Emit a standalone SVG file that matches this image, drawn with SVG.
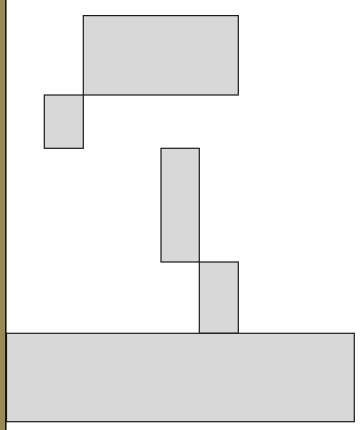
<svg xmlns="http://www.w3.org/2000/svg" width="361" height="430" viewBox="0 0 361 430">
<style>
.box{fill:#d8d8d8;stroke:#1a1a1a;stroke-width:1.2}
</style>
<rect x="0" y="0" width="361" height="430" fill="#ffffff"/>
<rect x="0" y="0" width="5" height="430" fill="#9a8b55"/>
<line x1="5.8" y1="0" x2="5.8" y2="430" stroke="#1a1a1a" stroke-width="1.6"/>
<g id="n1"><rect class="box" x="83.3" y="15.6" width="155" height="79.4"/></g>
<g id="n2"><rect class="box" x="44.3" y="95" width="39" height="53.3"/></g>
<g id="n3"><rect class="box" x="161" y="148.3" width="38.3" height="113.7"/></g>
<g id="n4"><rect class="box" x="199.3" y="262" width="39" height="71.3"/></g>
<g id="n5"><rect class="box" x="6.5" y="333.3" width="347.8" height="88.4"/></g>
<g id="connectors"></g>
</svg>
